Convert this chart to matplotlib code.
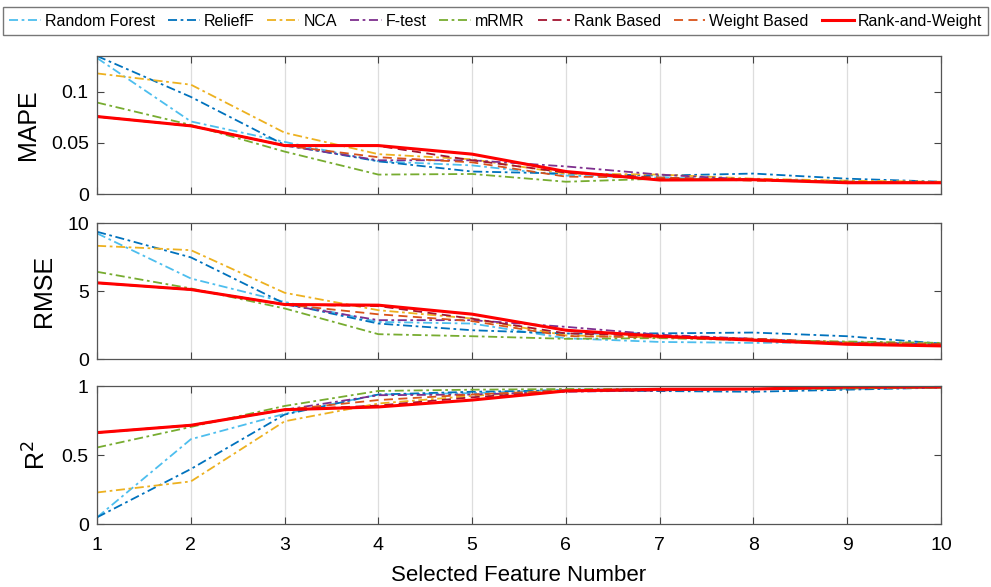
import matplotlib
matplotlib.use("Agg")
import matplotlib.pyplot as plt

plt.rcParams['font.family'] = ['Liberation Sans', 'DejaVu Sans']

features = [1, 2, 3, 4, 5, 6, 7, 8, 9, 10]
methods = ["Random Forest", "ReliefF", "NCA", "F-test", "mRMR",
           "Rank Based", "Weight Based", "Rank-and-Weight"]

mape_rf = [0.133, 0.071, 0.051, 0.032, 0.028, 0.018, 0.016, 0.014, 0.012, 0.011]
mape_relieff = [0.135, 0.095, 0.048, 0.032, 0.022, 0.020, 0.018, 0.020, 0.015, 0.012]
mape_nca = [0.118, 0.107, 0.060, 0.039, 0.034, 0.020, 0.019, 0.015, 0.013, 0.012]
mape_ftest = [0.0758, 0.0667, 0.0474, 0.033, 0.033, 0.027, 0.019, 0.014, 0.012, 0.011]
mape_mrmr = [0.0895, 0.0676, 0.0415, 0.019, 0.0196, 0.012, 0.015, 0.014, 0.012, 0.011]
mape_rank = [0.0758, 0.0667, 0.0474, 0.047, 0.033, 0.021, 0.016, 0.014, 0.012, 0.011]
mape_weight = [0.0758, 0.0667, 0.0474, 0.036, 0.031, 0.017, 0.016, 0.013, 0.012, 0.011]
mape_rw = [0.0758, 0.0667, 0.0474, 0.0474, 0.039, 0.022, 0.0137, 0.014, 0.011, 0.011]

rmse_rf = [9.24, 5.93, 4.21, 2.74, 2.62, 1.54, 1.27, 1.20, 1.25, 1.15]
rmse_relieff = [9.36, 7.48, 4.09, 2.62, 2.13, 1.89, 1.90, 1.96, 1.69, 1.15]
rmse_nca = [8.33, 8.01, 4.88, 3.60, 2.99, 1.75, 1.60, 1.45, 1.25, 1.15]
rmse_ftest = [5.61, 5.12, 4.02, 2.87, 2.87, 2.38, 1.80, 1.50, 1.20, 1.10]
rmse_mrmr = [6.42, 5.20, 3.73, 1.84, 1.69, 1.50, 1.55, 1.40, 1.30, 1.20]
rmse_rank = [5.61, 5.12, 4.02, 3.90, 2.98, 1.90, 1.70, 1.50, 1.20, 1.10]
rmse_weight = [5.61, 5.12, 4.02, 3.30, 2.80, 1.70, 1.60, 1.50, 1.20, 1.10]
rmse_rw = [5.61, 5.12, 4.02, 3.97, 3.31, 2.13, 1.69, 1.40, 1.10, 0.98]

r2_rf = [0.05, 0.616, 0.80, 0.94, 0.95, 0.975, 0.98, 0.98, 0.98, 0.99]
r2_relieff = [0.05, 0.40, 0.795, 0.94, 0.96, 0.97, 0.965, 0.96, 0.975, 0.99]
r2_nca = [0.23, 0.31, 0.746, 0.875, 0.93, 0.97, 0.975, 0.98, 0.985, 0.99]
r2_ftest = [0.664, 0.717, 0.83, 0.935, 0.94, 0.96, 0.97, 0.98, 0.985, 0.99]
r2_mrmr = [0.556, 0.705, 0.857, 0.966, 0.975, 0.98, 0.98, 0.98, 0.985, 0.99]
r2_rank = [0.664, 0.717, 0.83, 0.86, 0.92, 0.965, 0.97, 0.98, 0.99, 0.995]
r2_weight = [0.664, 0.717, 0.83, 0.90, 0.94, 0.97, 0.975, 0.98, 0.99, 0.995]
r2_rw = [0.664, 0.717, 0.83, 0.85, 0.90, 0.966, 0.978, 0.98, 0.995, 0.995]

colors = ["#4DBEEE", "#0072BD", "#EDB120", "#7E2F8E", "#77AC30",
          "#A2142F", "#D95319", "#FF0000"]
styles = [(0, (5, 2, 1.5, 2))] * 5 + [(0, (5, 3))] * 2 + ["-"]
widths = [1.3] * 7 + [2.2]

panels = [
    ([mape_rf, mape_relieff, mape_nca, mape_ftest, mape_mrmr, mape_rank, mape_weight, mape_rw],
     "MAPE", (0, 0.135), [0, 0.05, 0.1], ["0", "0.05", "0.1"]),
    ([rmse_rf, rmse_relieff, rmse_nca, rmse_ftest, rmse_mrmr, rmse_rank, rmse_weight, rmse_rw],
     "RMSE", (0, 10), [0, 5, 10], ["0", "5", "10"]),
    ([r2_rf, r2_relieff, r2_nca, r2_ftest, r2_mrmr, r2_rank, r2_weight, r2_rw],
     "R$^2$", (0, 1), [0, 0.5, 1], ["0", "0.5", "1"]),
]

fig = plt.figure(figsize=(9.91, 5.87), dpi=100)
boxes = [(0.098, 0.6695, 0.8515, 0.235),
         (0.098, 0.388, 0.8515, 0.232),
         (0.098, 0.107, 0.8515, 0.235)]

handles = None
for i, (series, ylabel, ylim, yt, ytl) in enumerate(panels):
    ax = fig.add_axes(boxes[i])
    hs = []
    for s, name, c, ls, lw in zip(series, methods, colors, styles, widths):
        h, = ax.plot(features, s, color=c, linestyle=ls, linewidth=lw, label=name)
        hs.append(h)
    if handles is None:
        handles = hs
    ax.set_xlim(1, 10)
    ax.set_ylim(*ylim)
    ax.set_xticks(features)
    ax.set_yticks(yt)
    ax.set_yticklabels(ytl)
    ax.grid(axis='x', color='#dddddd', linewidth=0.9)
    ax.set_axisbelow(True)
    ax.tick_params(direction='in', top=True, right=True, length=5,
                   labelsize=14, color='#444444', width=0.8)
    ax.tick_params(axis='x', pad=9)
    ax.tick_params(axis='y', pad=6)
    for sp in ax.spines.values():
        sp.set_color('#555555')
        sp.set_linewidth(0.9)
    ax.set_ylabel(ylabel, fontsize=18, labelpad=8)
    if i < 2:
        ax.set_xticklabels([])
    else:
        ax.set_xlabel("Selected Feature Number", fontsize=16, labelpad=8)

fig.legend(handles, methods, loc='upper center', bbox_to_anchor=(0.5, 0.993),
           ncol=8, fontsize=11.5, frameon=True, fancybox=False, edgecolor='#555555',
           handlelength=2.0, handletextpad=0.25, columnspacing=0.8,
           borderpad=0.4, borderaxespad=0.2)

fig.savefig("out.png", dpi=100)
